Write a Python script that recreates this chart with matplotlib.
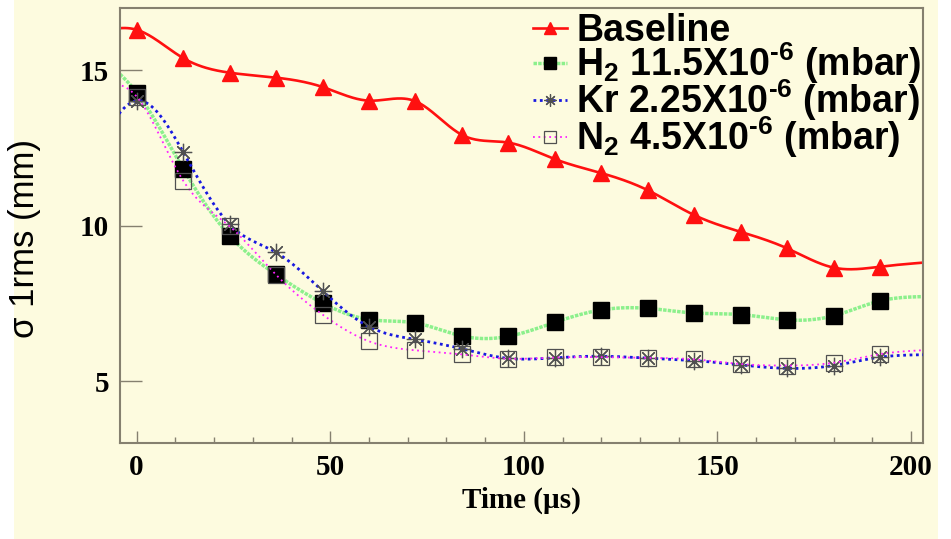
import numpy as np
import matplotlib.pyplot as plt
from matplotlib.patches import Rectangle
from matplotlib.font_manager import FontProperties
from matplotlib.ticker import MultipleLocator

plt.rcParams['mathtext.fontset'] = 'custom'
plt.rcParams['mathtext.rm'] = 'Liberation Sans:bold'
plt.rcParams['mathtext.bf'] = 'Liberation Sans:bold'
plt.rcParams['mathtext.default'] = 'bf'

# tiempos (us); los puntos en -12 y 204 quedan fuera del marco
t = [-12, 0, 12, 24, 36, 48, 60, 72, 84, 96, 108, 120, 132, 144, 156, 168, 180, 192, 204]
baseline = [16.10, 16.30, 15.39, 14.92, 14.76, 14.46, 14.02, 14.00, 12.92, 12.67, 12.14,
            11.69, 11.14, 10.34, 9.80, 9.27, 8.65, 8.68, 8.82]
h2 = [15.60, 14.28, 11.83, 9.68, 8.43, 7.51, 6.98, 6.87, 6.45, 6.44, 6.89,
      7.29, 7.34, 7.19, 7.14, 6.97, 7.10, 7.58, 7.72]
kr = [12.00, 14.02, 12.37, 10.04, 9.14, 7.90, 6.75, 6.34, 6.04, 5.73, 5.75,
      5.80, 5.74, 5.66, 5.52, 5.41, 5.50, 5.77, 5.85]
n2 = [14.40, 14.15, 11.45, 9.98, 8.42, 7.14, 6.28, 5.99, 5.86, 5.72, 5.76,
      5.77, 5.75, 5.70, 5.55, 5.50, 5.59, 5.87, 6.00]

labels = ['Baseline',
          r'H$_{2}$ 11.5X10$^{\text{-6}}$ (mbar)',
          r'Kr 2.25X10$^{\text{-6}}$ (mbar)',
          r'N$_{2}$ 4.5X10$^{\text{-6}}$ (mbar)']

XMIN, XMAX = -4.3, 203


def spline(x, y, n=600):
    # spline cubico natural, como la opcion "C" de ROOT
    x = np.asarray(x, float)
    y = np.asarray(y, float)
    m = len(x)
    h = np.diff(x)
    A = np.zeros((m, m))
    r = np.zeros(m)
    A[0, 0] = A[-1, -1] = 1
    for i in range(1, m - 1):
        A[i, i - 1] = h[i - 1]
        A[i, i] = 2 * (h[i - 1] + h[i])
        A[i, i + 1] = h[i]
        r[i] = 3 * ((y[i + 1] - y[i]) / h[i] - (y[i] - y[i - 1]) / h[i - 1])
    c = np.linalg.solve(A, r)
    b = (y[1:] - y[:-1]) / h - h * (2 * c[:-1] + c[1:]) / 3
    d = (c[1:] - c[:-1]) / (3 * h)
    xs = np.linspace(x[0], x[-1], n)
    k = np.clip(np.searchsorted(x, xs) - 1, 0, m - 2)
    dx = xs - x[k]
    return xs, y[k] + b[k] * dx + c[k] * dx ** 2 + d[k] * dx ** 3


def visibles(x, y):
    # ROOT no dibuja los marcadores fuera del marco
    x = np.asarray(x, float)
    y = np.asarray(y, float)
    m = (x >= XMIN) & (x <= XMAX)
    return x[m], y[m]


W, H = 951, 539
fig = plt.figure(figsize=(W / 100, H / 100), dpi=100, facecolor='white')
amarillo = '#fdfbdf'
fig.patches.append(Rectangle((14 / W, 0), (938 - 14) / W, 1, transform=fig.transFigure,
                             facecolor=amarillo, edgecolor='none', zorder=-10))

ax = fig.add_axes([120 / W, 1 - 443.3 / H, (922.7 - 120) / W, (443.3 - 8) / H])
ax.set_facecolor(amarillo)

handles = []

xs, ys = spline(t, baseline)
ax.plot(xs, ys, color='#ff1010', lw=1.9, zorder=2)
ax.plot(*visibles(t, baseline), ls='none', marker='^', ms=11.5, color='#ff1010', zorder=3)
handles.append(ax.plot([], [], color='#ff1010', lw=1.9, marker='^', ms=11.5)[0])

xs, ys = spline(t, h2)
ax.plot(xs, ys, color='#8cf08c', lw=2.5, ls=(0, (1, 0.35)), zorder=2)
ax.plot(*visibles(t, h2), ls='none', marker='s', ms=11.5, color='black', zorder=3)
handles.append(ax.plot([], [], color='#8cf08c', lw=2.5, ls=(0, (1, 0.35)),
                       marker='s', ms=11.5, mfc='black', mec='black')[0])

xs, ys = spline(t, kr)
ax.plot(xs, ys, color='#1818e0', lw=2.0, ls=(0, (1, 1.3)), zorder=4)
ax.plot(*visibles(t, kr), ls='none', marker=(8, 2, 0), ms=12.5, mew=0.9,
        color='#505050', zorder=5)
handles.append(ax.plot([], [], color='#1818e0', lw=2.0, ls=(0, (1, 1.3)),
                       marker=(8, 2, 0), ms=12.5, mew=0.9, mec='#505050')[0])

xs, ys = spline(t, n2)
ax.plot(xs, ys, color='#ff20ff', lw=1.3, ls=(0, (1, 2)), zorder=6)
ax.plot(*visibles(t, n2), ls='none', marker='s', ms=11.5, mew=0.9, mfc='none',
        mec='#505050', zorder=7)
handles.append(ax.plot([], [], color='#ff20ff', lw=1.3, ls=(0, (1, 2)),
                       marker='s', ms=11.5, mew=0.9, mfc='none', mec='#505050')[0])

ax.set_xlim(XMIN, XMAX)
ax.set_ylim(3, 17)
ax.xaxis.set_major_locator(MultipleLocator(50))
ax.xaxis.set_minor_locator(MultipleLocator(10))
ax.set_yticks([5, 10, 15])

marco = '#85806f'
for s in ax.spines.values():
    s.set_color(marco)
    s.set_linewidth(1.5)

serif_b = FontProperties(family='Liberation Serif', weight='bold', size=21)
ax.tick_params(axis='x', which='major', direction='in', length=9, width=1, color=marco, pad=8)
ax.tick_params(axis='x', which='minor', direction='in', length=4, width=1, color=marco)
ax.tick_params(axis='y', which='major', direction='in', length=16, width=1, color=marco, pad=8)
ax.tick_params(axis='y', which='minor', left=False)
for lab in ax.get_xticklabels() + ax.get_yticklabels():
    lab.set_fontproperties(serif_b)

ax.set_xlabel('Time (\u00b5s)', fontproperties=serif_b, labelpad=4)
ax.set_ylabel('\u03c3 1rms (mm)', family='Liberation Sans', fontsize=25, labelpad=12)
ax.yaxis.set_label_coords(-0.098, 0.47)

leg = ax.legend(handles, labels, loc='upper left', bbox_to_anchor=(533 / W, 1 - 13 / H),
                bbox_transform=fig.transFigure, frameon=False, handlelength=0.9,
                handletextpad=0.25, labelspacing=-0.227, borderpad=0, borderaxespad=0,
                markerscale=0.7,
                prop=FontProperties(family='Liberation Sans', weight='bold', size=27))

fig.savefig('out.png', dpi=100, facecolor=fig.get_facecolor())
